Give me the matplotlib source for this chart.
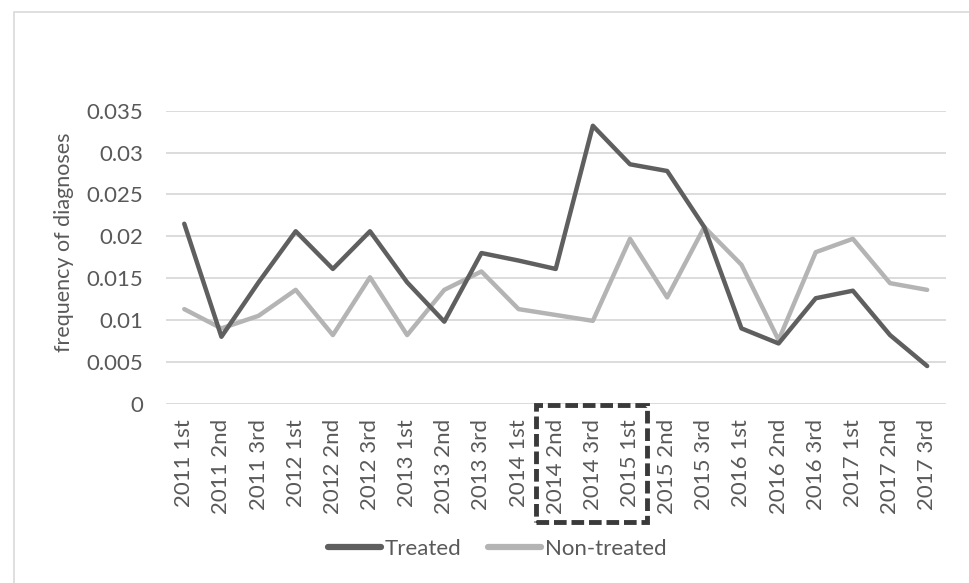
import matplotlib
matplotlib.use('Agg')
import matplotlib.pyplot as plt
from matplotlib.patches import Rectangle
from matplotlib.transforms import blended_transform_factory

periods = ['2011 1st', '2011 2nd', '2011 3rd', '2012 1st', '2012 2nd', '2012 3rd',
           '2013 1st', '2013 2nd', '2013 3rd', '2014 1st', '2014 2nd', '2014 3rd',
           '2015 1st', '2015 2nd', '2015 3rd', '2016 1st', '2016 2nd', '2016 3rd',
           '2017 1st', '2017 2nd', '2017 3rd']
treated = [0.0215, 0.0080, 0.0145, 0.0206, 0.0161, 0.0206, 0.0145, 0.0098,
           0.0180, 0.0171, 0.0161, 0.0332, 0.0286, 0.0278, 0.0211, 0.0090,
           0.0072, 0.0126, 0.0135, 0.0082, 0.0045]
non_treated = [0.0113, 0.0090, 0.0105, 0.0136, 0.0082, 0.0151, 0.0082, 0.0136,
               0.0158, 0.0113, 0.0106, 0.0099, 0.0197, 0.0127, 0.0211, 0.0166,
               0.0076, 0.0181, 0.0197, 0.0144, 0.0136]
yticks = [0, 0.005, 0.01, 0.015, 0.02, 0.025, 0.03, 0.035]
ytick_labels = ['0', '0.005', '0.01', '0.015', '0.02', '0.025', '0.03', '0.035']

plt.rcParams['font.family'] = ['Lato', 'DejaVu Sans']
text_color = '#595959'

fig = plt.figure(figsize=(9.69, 5.83), dpi=100)
ax = fig.add_axes([0.171, 0.3075, 0.805, 0.5026])

x = list(range(len(periods)))
ax.plot(x, non_treated, color='#b4b4b4', lw=3.2, label='Non-treated', solid_capstyle='round', zorder=3)
ax.plot(x, treated, color='#5f5f5f', lw=3.2, label='Treated', solid_capstyle='round', zorder=4)

ax.set_xlim(-0.5, len(periods) - 0.5)
ax.set_ylim(0, 0.035)
ax.set_yticks(yticks)
ax.set_yticklabels(ytick_labels)
ax.set_xticks(x)
ax.set_xticklabels(periods, rotation=90)
ax.tick_params(axis='both', length=0, labelsize=16, labelcolor=text_color)
ax.tick_params(axis='y', pad=16)
ax.tick_params(axis='x', pad=11)
ax.grid(axis='y', color='#d9d9d9', lw=1.3)
ax.set_axisbelow(True)
for s in ax.spines.values():
    s.set_visible(False)

ax.set_ylabel('frequency of diagnoses', fontsize=15.5, color=text_color)
ax.yaxis.set_label_coords(-0.118, 0.55)

# dashed box round 2014 2nd - 2015 1st
trans = blended_transform_factory(ax.transData, ax.transAxes)
box = Rectangle((9.47, -0.405), 3.0, 0.40, transform=trans, fill=False,
                edgecolor='#3a3a3a', lw=3.5, linestyle=(0, (2.6, 1.0)), clip_on=False, zorder=5)
ax.add_patch(box)

# legend: Treated first
h, l = ax.get_legend_handles_labels()
leg = fig.legend(h[::-1], l[::-1], loc='center', bbox_to_anchor=(0.513, 0.058), ncol=2,
                 frameon=False, fontsize=16, handlelength=2.4, handletextpad=0.15,
                 columnspacing=1.2, labelcolor=text_color)
for line in leg.get_lines():
    line.set_linewidth(4.5)

# chart border, only top and left fall inside the picture
fig.patches.append(Rectangle((14, -20), 2000, 583 - 12 + 20, transform=None, fill=False,
                             edgecolor='#d9d9d9', lw=1.2))

fig.savefig('out.png', dpi=100)
